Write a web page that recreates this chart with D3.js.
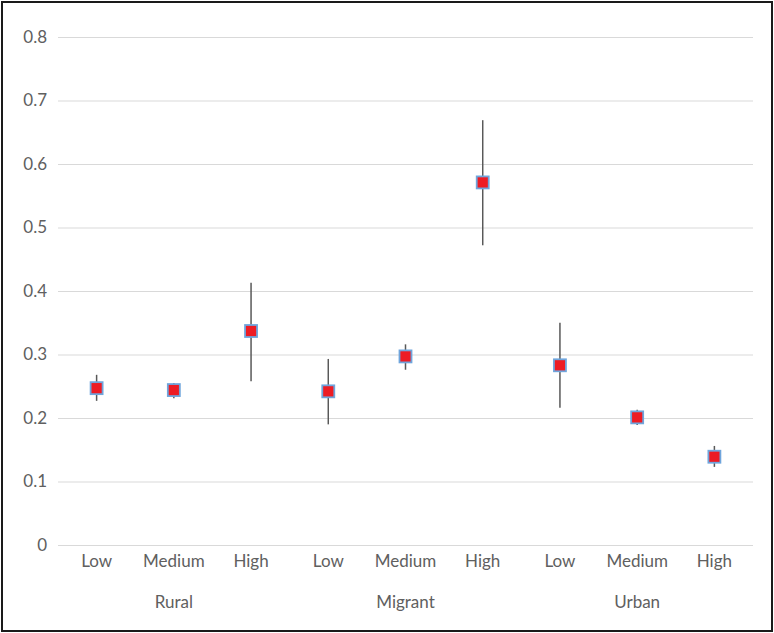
<!DOCTYPE html>
<html><head><meta charset="utf-8">
<script src="https://cdn.jsdelivr.net/npm/d3@7"></script>
<style>body{margin:0;background:#fff}svg{display:block}</style>
</head><body>
<svg id="c" width="774" height="633"></svg>
<script>
const groups = ["Rural", "Migrant", "Urban"];
const levels = ["Low", "Medium", "High"];
const values = [0.247, 0.244, 0.337, 0.242, 0.297, 0.571, 0.283, 0.201, 0.139];
const errLow = [0.227, 0.231, 0.258, 0.190, 0.276, 0.472, 0.216, 0.189, 0.123];
const errHigh = [0.268, 0.255, 0.413, 0.293, 0.316, 0.669, 0.350, 0.213, 0.156];
const yTicks = [0, 0.1, 0.2, 0.3, 0.4, 0.5, 0.6, 0.7, 0.8];

const data = [];
groups.forEach((g, gi) => levels.forEach((l, li) => {
  const i = gi * 3 + li;
  data.push({key: g + "|" + l, group: g, level: l, v: values[i], lo: errLow[i], hi: errHigh[i]});
}));

const svg = d3.select("#c");
svg.append("rect").attr("x", 2).attr("y", 2).attr("width", 770).attr("height", 629)
  .attr("fill", "#fff").attr("stroke", "#1a1a1a").attr("stroke-width", 2);

const x = d3.scaleBand().domain(data.map(d => d.key)).range([58, 753]);
const y = d3.scaleLinear().domain([0, 0.8]).range([545, 37]);
const font = "Lato, 'Open Sans', sans-serif";
const fs = 17;
const col = "#606060";

const yAxis = svg.append("g").attr("transform", "translate(58,0)")
  .call(d3.axisLeft(y).tickValues(yTicks).tickSize(-695).tickPadding(11)
    .tickFormat(d => d === 0 ? "0" : d3.format(".1f")(d)));
yAxis.select(".domain").remove();
yAxis.selectAll(".tick line").attr("stroke", "#d9d9d9").attr("stroke-width", 1);
yAxis.selectAll(".tick text").attr("fill", col).attr("font-size", fs).attr("font-family", font);

const xAxis = svg.append("g").attr("transform", "translate(0,545)")
  .call(d3.axisBottom(x).tickSize(0).tickPadding(10).tickFormat(k => k.split("|")[1]));
xAxis.select(".domain").remove();
xAxis.selectAll(".tick text").attr("fill", col).attr("font-size", fs).attr("font-family", font);

svg.append("g").selectAll("text").data(groups).join("text")
  .attr("x", g => x(g + "|Medium") + x.bandwidth() / 2)
  .attr("y", 608)
  .attr("text-anchor", "middle")
  .attr("fill", col).attr("font-size", fs).attr("font-family", font)
  .text(g => g);

const cx = d => x(d.key) + x.bandwidth() / 2;
svg.append("g").selectAll("line").data(data).join("line")
  .attr("x1", cx).attr("x2", cx)
  .attr("y1", d => y(d.hi)).attr("y2", d => y(d.lo))
  .attr("stroke", "#595959").attr("stroke-width", 1.5);

svg.append("g").selectAll("rect").data(data).join("rect")
  .attr("x", d => cx(d) - 6).attr("y", d => y(d.v) - 6)
  .attr("width", 12).attr("height", 12)
  .attr("fill", "#ed1c24").attr("stroke", "#6fa5dc").attr("stroke-width", 1.8);
</script>
</body></html>
